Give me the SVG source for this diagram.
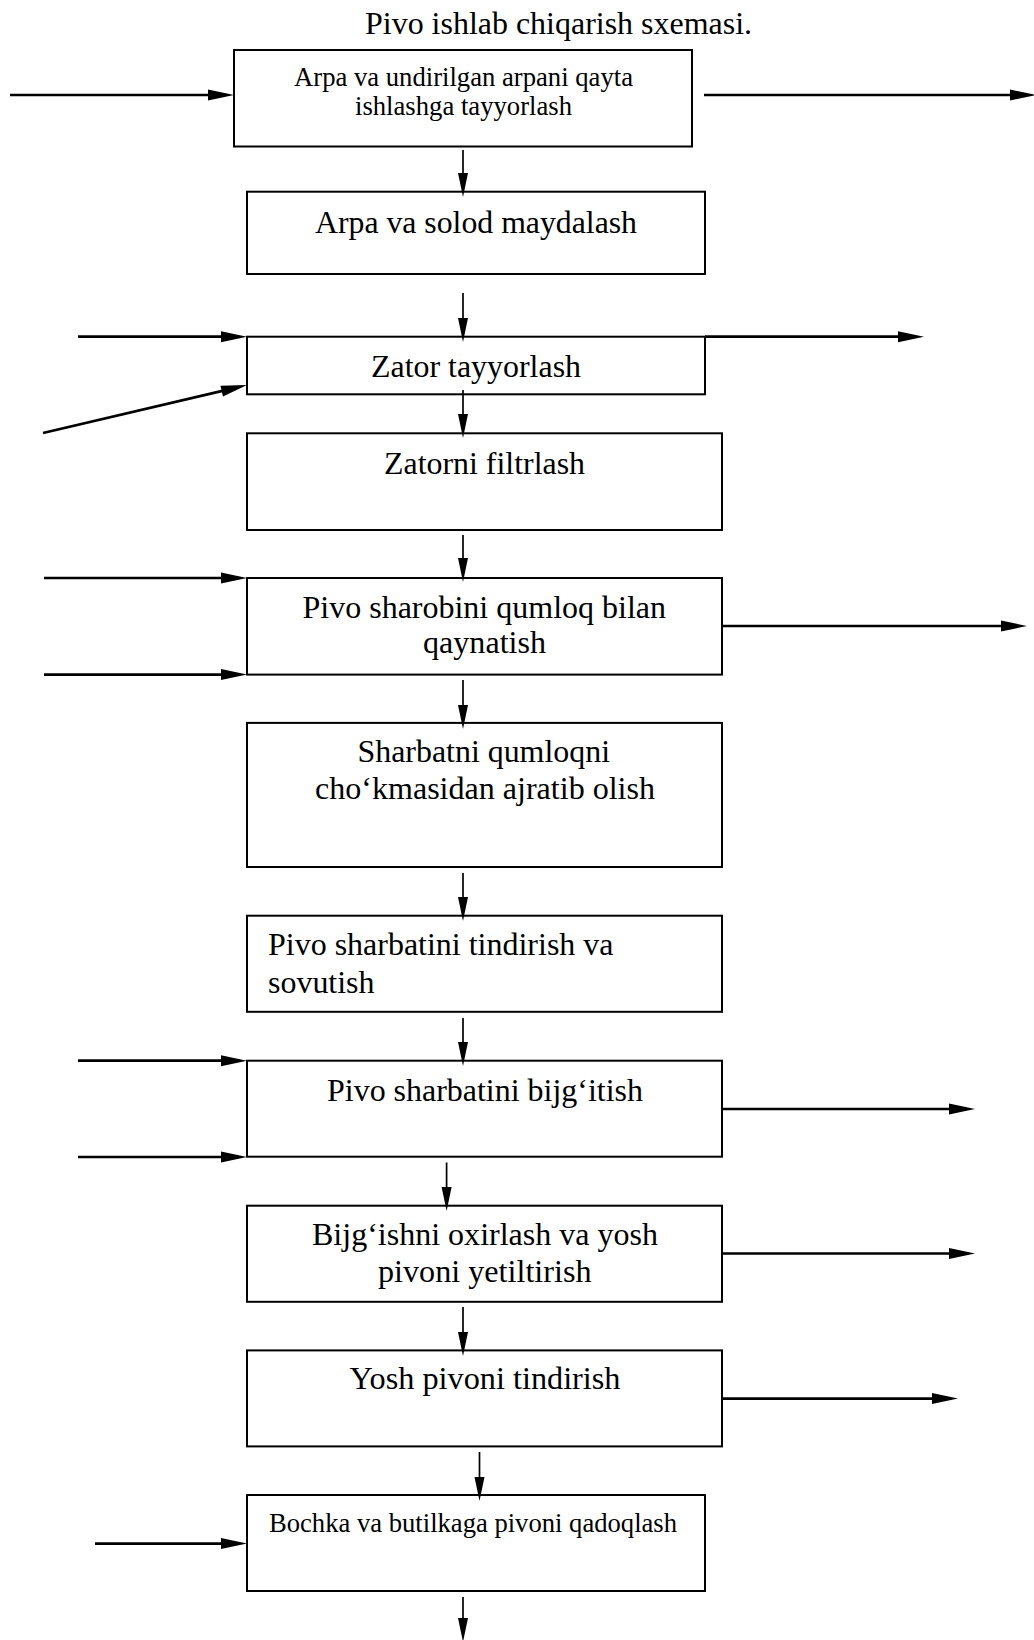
<svg xmlns="http://www.w3.org/2000/svg" width="1034" height="1640" viewBox="0 0 1034 1640">
<style>
.box{fill:#fff;stroke:#000;stroke-width:2}
.t{font-family:"Liberation Serif","Times New Roman",serif;font-size:32px;fill:#000}
.s{font-size:26.5px}
.v{stroke:#000;stroke-width:1.7;fill:none;marker-end:url(#av)}
.h{stroke:#000;stroke-width:2.7;fill:none;marker-end:url(#ah)}
</style>
<defs>
<marker id="av" markerUnits="userSpaceOnUse" markerWidth="24" markerHeight="10" refX="14" refY="5" orient="auto" overflow="visible">
<path d="M0,0 L24,5 L0,10 z" fill="#000"/>
</marker>
<marker id="ah" markerUnits="userSpaceOnUse" markerWidth="26" markerHeight="11" refX="16" refY="5.5" orient="auto" overflow="visible">
<path d="M0,0 L26,5.5 L0,11 z" fill="#000"/>
</marker>
</defs>
<rect width="1034" height="1640" fill="#fff"/>
<text class="t" x="365" y="34" textLength="387" lengthAdjust="spacingAndGlyphs">Pivo ishlab chiqarish sxemasi.</text>

<g id="n1"><rect class="box" x="234" y="50" width="458" height="96.5"/>
<text class="t s" x="294" y="86" textLength="339" lengthAdjust="spacingAndGlyphs">Arpa va undirilgan arpani qayta</text>
<text class="t s" x="355" y="115" textLength="217" lengthAdjust="spacingAndGlyphs">ishlashga tayyorlash</text></g>

<g id="n2"><rect class="box" x="247" y="191.7" width="458" height="82.3"/>
<text class="t" x="315" y="233" textLength="322" lengthAdjust="spacingAndGlyphs">Arpa va solod maydalash</text></g>

<g id="n3"><rect class="box" x="247" y="336.7" width="458" height="57.6"/>
<text class="t" x="371" y="376.5" textLength="210" lengthAdjust="spacingAndGlyphs">Zator tayyorlash</text></g>

<g id="n4"><rect class="box" x="247" y="433.3" width="475" height="96.7"/>
<text class="t" x="384" y="473.5" textLength="201" lengthAdjust="spacingAndGlyphs">Zatorni filtrlash</text></g>

<g id="n5"><rect class="box" x="247" y="578" width="475" height="96.6"/>
<text class="t" x="302.5" y="617.5" textLength="363.5" lengthAdjust="spacingAndGlyphs">Pivo sharobini qumloq bilan</text>
<text class="t" x="423" y="653" textLength="123" lengthAdjust="spacingAndGlyphs">qaynatish</text></g>

<g id="n6"><rect class="box" x="247" y="722.9" width="475" height="144.1"/>
<text class="t" x="357.5" y="762" textLength="252.5" lengthAdjust="spacingAndGlyphs">Sharbatni qumloqni</text>
<text class="t" x="315" y="799" textLength="340" lengthAdjust="spacingAndGlyphs">cho‘kmasidan ajratib olish</text></g>

<g id="n7"><rect class="box" x="247" y="915.7" width="475" height="96.1"/>
<text class="t" x="268" y="955" textLength="345.5" lengthAdjust="spacingAndGlyphs">Pivo sharbatini tindirish va</text>
<text class="t" x="268" y="992.7" textLength="106.5" lengthAdjust="spacingAndGlyphs">sovutish</text></g>

<g id="n8"><rect class="box" x="247" y="1060.7" width="475" height="96"/>
<text class="t" x="327" y="1101" textLength="316" lengthAdjust="spacingAndGlyphs">Pivo sharbatini bijg‘itish</text></g>

<g id="n9"><rect class="box" x="247" y="1205.7" width="475" height="96.1"/>
<text class="t" x="312" y="1244.7" textLength="346" lengthAdjust="spacingAndGlyphs">Bijg‘ishni oxirlash va yosh</text>
<text class="t" x="378" y="1282" textLength="213.5" lengthAdjust="spacingAndGlyphs">pivoni yetiltirish</text></g>

<g id="n10"><rect class="box" x="247" y="1350.4" width="475" height="96"/>
<text class="t" x="349.5" y="1389.4" textLength="271" lengthAdjust="spacingAndGlyphs">Yosh pivoni tindirish</text></g>

<g id="n11"><rect class="box" x="247" y="1495" width="458" height="96"/>
<text class="t s" x="269" y="1531.5" textLength="408" lengthAdjust="spacingAndGlyphs">Bochka va butilkaga pivoni qadoqlash</text></g>

<g id="connectors">
<line class="v" x1="463" y1="150" x2="463" y2="187"/>
<line class="v" x1="463" y1="293" x2="463" y2="332"/>
<line class="v" x1="463" y1="390" x2="463" y2="428"/>
<line class="v" x1="463" y1="535" x2="463" y2="572"/>
<line class="v" x1="463" y1="680" x2="463" y2="719"/>
<line class="v" x1="463" y1="873" x2="463" y2="911"/>
<line class="v" x1="463" y1="1018" x2="463" y2="1056"/>
<line class="v" x1="446.6" y1="1162.5" x2="446.6" y2="1201"/>
<line class="v" x1="463" y1="1307" x2="463" y2="1346"/>
<line class="v" x1="479.5" y1="1452" x2="479.5" y2="1491"/>
<line class="v" x1="463" y1="1597" x2="463" y2="1632"/>

<line class="h" x1="10" y1="95" x2="224" y2="95"/>
<line class="h" x1="704" y1="95" x2="1026" y2="95"/>
<line class="h" x1="78" y1="336.7" x2="237" y2="336.7"/>
<line class="h" x1="43" y1="433" x2="237.3" y2="387.4"/>
<line class="h" x1="705" y1="336.7" x2="914" y2="336.7"/>
<line class="h" x1="44" y1="578" x2="237" y2="578"/>
<line class="h" x1="44" y1="674.6" x2="237" y2="674.6"/>
<line class="h" x1="722" y1="626" x2="1017" y2="626"/>
<line class="h" x1="78" y1="1060.7" x2="237" y2="1060.7"/>
<line class="h" x1="78" y1="1157" x2="237" y2="1157"/>
<line class="h" x1="722" y1="1109" x2="965" y2="1109"/>
<line class="h" x1="722" y1="1253.5" x2="965" y2="1253.5"/>
<line class="h" x1="722" y1="1398.6" x2="948" y2="1398.6"/>
<line class="h" x1="95" y1="1543.6" x2="237" y2="1543.6"/>
</g>
</svg>
